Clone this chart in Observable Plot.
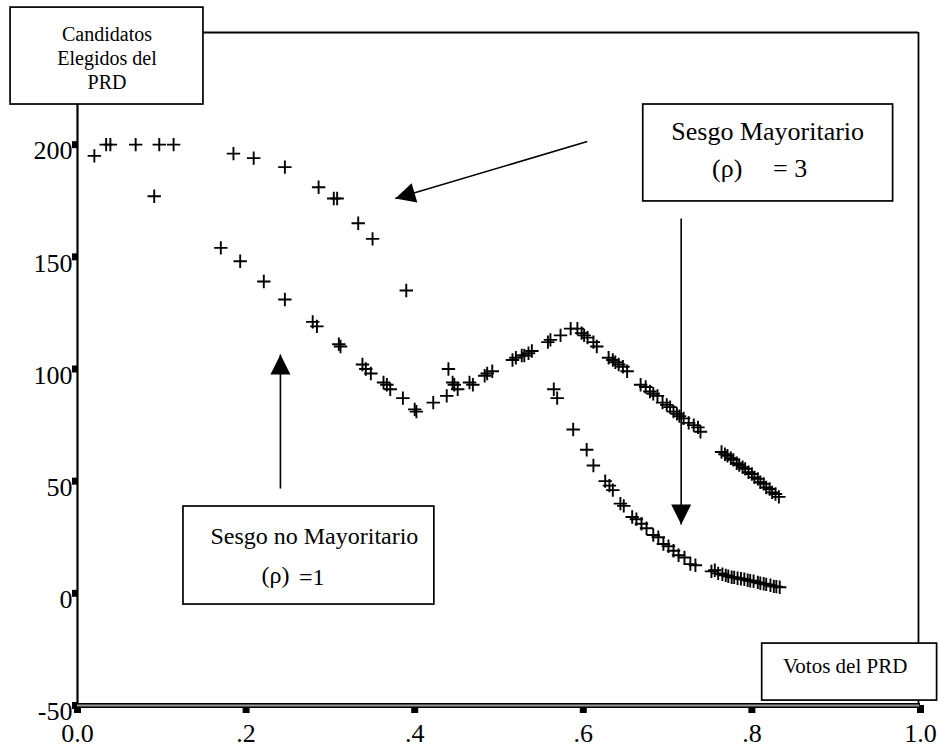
<!DOCTYPE html>
<html>
<head>
<meta charset="utf-8">
<script src="https://cdn.jsdelivr.net/npm/d3@7"></script>
<script src="https://cdn.jsdelivr.net/npm/@observablehq/plot@0.6"></script>
<style>
  html, body { margin: 0; padding: 0; background: #fff; }
  #chart svg { display: block; overflow: visible; }
</style>
</head>
<body>
<div id="chart"></div>
<script>
// ---- Data ----
// Sesgo Mayoritario (rho = 3)
const votosRho3 = [
  0.020, 0.034, 0.039, 0.069, 0.097, 0.114, 0.091, 0.185, 0.209, 0.246, 0.286, 0.304, 0.308, 0.333, 0.350, 0.390,
  0.565, 0.569, 0.588, 0.604, 0.612, 0.626, 0.631, 0.635, 0.644, 0.648, 0.658, 0.663, 0.669, 0.675, 0.683, 0.689,
  0.695, 0.701, 0.707, 0.713, 0.720, 0.727, 0.733,
  0.752, 0.756, 0.760, 0.765, 0.769, 0.772, 0.776, 0.779, 0.783, 0.787, 0.791, 0.795, 0.798, 0.802, 0.807, 0.810,
  0.814, 0.817, 0.822, 0.826, 0.829, 0.833
];
const escanosRho3 = [
  195, 200, 200, 200, 200, 200, 177, 196, 194, 190, 181, 176, 176, 165, 158, 135,
  91, 87, 73, 64, 57, 50, 48, 46, 40, 39, 34, 33, 31, 29, 26, 25,
  22, 21, 19, 17, 16, 13, 12.5,
  9.8, 10.3, 8.9, 8.5, 8.0, 7.6, 7.2, 7.1, 6.7, 6.5, 6.3, 5.8, 5.6, 5.4, 4.9, 4.5,
  4.3, 4.0, 3.6, 3.1, 3.0, 2.7
];
// Sesgo no Mayoritario (rho = 1)
const votosRho1 = [
  0.170, 0.193, 0.221, 0.246, 0.279, 0.284, 0.310, 0.312, 0.338, 0.342, 0.348, 0.363, 0.367, 0.371, 0.386, 0.400,
  0.402, 0.422, 0.438, 0.440, 0.445, 0.447, 0.451, 0.465, 0.469, 0.483, 0.486, 0.492, 0.516, 0.520, 0.527, 0.530,
  0.535, 0.539, 0.558, 0.561, 0.573, 0.585, 0.593, 0.598, 0.601, 0.605, 0.612, 0.616, 0.630, 0.635, 0.638, 0.642,
  0.647, 0.652, 0.668, 0.674, 0.679, 0.683, 0.688, 0.694, 0.699, 0.703, 0.707, 0.711, 0.714, 0.719, 0.725, 0.731,
  0.736, 0.739,
  0.764, 0.768, 0.771, 0.775, 0.778, 0.782, 0.785, 0.789, 0.792, 0.796, 0.800, 0.803, 0.807, 0.810, 0.814, 0.817,
  0.821, 0.824, 0.828, 0.832
];
const escanosRho1 = [
  154, 148, 139, 131, 121, 119, 111, 110, 102, 100, 98, 94, 93, 91, 87, 82,
  81, 85, 88, 100, 94, 93, 91, 94, 93, 97, 98, 99, 104, 105, 106, 106,
  107, 108, 112, 113, 115, 118, 118, 116, 115, 114, 112, 110, 105, 104, 103, 102,
  101, 99, 93, 92, 90, 89, 88, 85, 84, 83, 81, 80, 79, 78, 76, 75,
  74, 72,
  63.0, 62.0, 61.3, 60.2, 59.5, 58.0, 57.2, 56.2, 55.5, 54.0, 53.2, 51.7, 51.0, 49.5, 48.8, 47.2,
  46.5, 45.0, 44.3, 43.0
];
const xTicks = [0, 0.2, 0.4, 0.6, 0.8, 1.0];
const xTickLabels = ["0.0", ".2", ".4", ".6", ".8", "1.0"];
const yTicks = [200, 150, 100, 50, 0, -50];
const yTickLabels = ["200", "150", "100", "50", "0", "-50"];

// ---- Tables built from the arrays ----
const puntos = [
  ...votosRho3.map((v, i) => ({votos: v, escanos: escanosRho3[i], rho: 3})),
  ...votosRho1.map((v, i) => ({votos: v, escanos: escanosRho1[i], rho: 1}))
];

// ---- Annotation layout (data coordinates) ----
const cajas = [
  {x1: -0.0794, x2: 0.1494, y1: 217.9, y2: 261.1},
  {x1: 0.6711, x2: 0.9675, y1: 174.7, y2: 217.9},
  {x1: 0.1257, x2: 0.4233, y1: -5.0, y2: 38.7},
  {x1: 0.8122, x2: 1.0197, y1: -47.8, y2: -22.4}
];
const flechas = [
  {x1: 0.6047, y1: 201.4, x2: 0.3770, y2: 176.0, rot: 253.5},
  {x1: 0.2407, y1: 46.7, x2: 0.2407, y2: 106.5, rot: 0},
  {x1: 0.7161, y1: 167.1, x2: 0.7161, y2: 30.7, rot: 180}
];

const plusSymbol = {
  draw(ctx, size) {
    const r = Math.sqrt(size / Math.PI);
    ctx.moveTo(-r, 0); ctx.lineTo(r, 0);
    ctx.moveTo(0, -r); ctx.lineTo(0, r);
  }
};
const headSymbol = {
  draw(ctx, size) {
    const r = Math.sqrt(size / Math.PI);
    ctx.moveTo(0, 0); ctx.lineTo(-0.5 * r, r); ctx.lineTo(0.5 * r, r); ctx.closePath();
  }
};

const font = "Liberation Serif, Times New Roman, serif";

const chart = Plot.plot({
  width: 940,
  height: 746,
  marginLeft: 77,
  marginRight: 20,
  marginTop: 32,
  marginBottom: 41,
  style: {fontFamily: font, background: "#fff", color: "#000", overflow: "visible"},
  x: {domain: [0, 1]},
  y: {domain: [-50, 250]},
  marks: [
    Plot.axisX(xTicks, {tickSize: 8, strokeWidth: 7, tickFormat: () => "", label: null}),
    Plot.axisY(yTicks, {tickSize: 5, strokeWidth: 7, tickFormat: () => "", label: null}),
    Plot.text(xTicks, {x: d => d, y: -50, text: d => xTickLabels[xTicks.indexOf(d)], dy: 28, fontSize: 26, lineAnchor: "middle", fill: "#000"}),
    Plot.text(yTicks, {x: 0, y: d => d, text: d => yTickLabels[yTicks.indexOf(d)], dx: -5, dy: 6.5, textAnchor: "end", fontSize: 26, fill: "#000"}),
    // frame
    Plot.ruleX([0], {y1: -50, y2: 250, strokeWidth: 2.2, stroke: "#000"}),
    Plot.ruleY([250], {x1: 0.1494, x2: 0.9976, strokeWidth: 1.8, stroke: "#000"}),
    Plot.ruleX([0.9976], {y1: -50, y2: 250, strokeWidth: 1.8, stroke: "#000"}),
    Plot.ruleY([-50], {x1: -0.001, x2: 1.0, strokeWidth: 5, stroke: "#000"}),
    Plot.ruleY([-50], {x1: 0.0, x2: 0.999, strokeWidth: 2.2, stroke: "#9a9a9a"}),
    // data
    Plot.dot(puntos, {x: "votos", y: "escanos", symbol: plusSymbol, r: 6.7, stroke: "#000", strokeWidth: 1.9, fill: "none"}),
    // boxes
    Plot.rect(cajas, {x1: "x1", x2: "x2", y1: "y1", y2: "y2", fill: "#fff", stroke: "#000", strokeWidth: 1.7}),
    Plot.text(["Candidatos\nElegidos del\nPRD"], {x: 0.035, y: 239.1, text: d => d, fontSize: 20, lineHeight: 1.2, lineAnchor: "middle", fill: "#000"}),
    Plot.text(["Sesgo Mayoritario"], {x: 0.8187, y: 205.9, text: d => d, fontSize: 26, fill: "#000"}),
    Plot.text(["(ρ)"], {x: 0.7707, y: 189.4, text: d => d, fontSize: 26, fill: "#000"}),
    Plot.text(["= 3"], {x: 0.8454, y: 189.4, text: d => d, fontSize: 26, fill: "#000"}),
    Plot.text(["Sesgo no Mayoritario"], {x: 0.2810, y: 25.6, text: d => d, fontSize: 24, fill: "#000"}),
    Plot.text(["(ρ)"], {x: 0.2348, y: 7.9, text: d => d, fontSize: 24, fill: "#000"}),
    Plot.text(["=1"], {x: 0.2780, y: 7.0, text: d => d, fontSize: 24, fill: "#000"}),
    Plot.text(["Votos del PRD"], {x: 0.9106, y: -32.4, text: d => d, fontSize: 21, fill: "#000"}),
    // arrows
    Plot.link(flechas, {x1: "x1", y1: "y1", x2: "x2", y2: "y2", stroke: "#000", strokeWidth: 1.6}),
    Plot.dot(flechas, {x: "x2", y: "y2", symbol: headSymbol, r: 20, rotate: "rot", fill: "#000", stroke: "none"})
  ]
});
document.getElementById("chart").appendChild(chart);
</script>
</body>
</html>
